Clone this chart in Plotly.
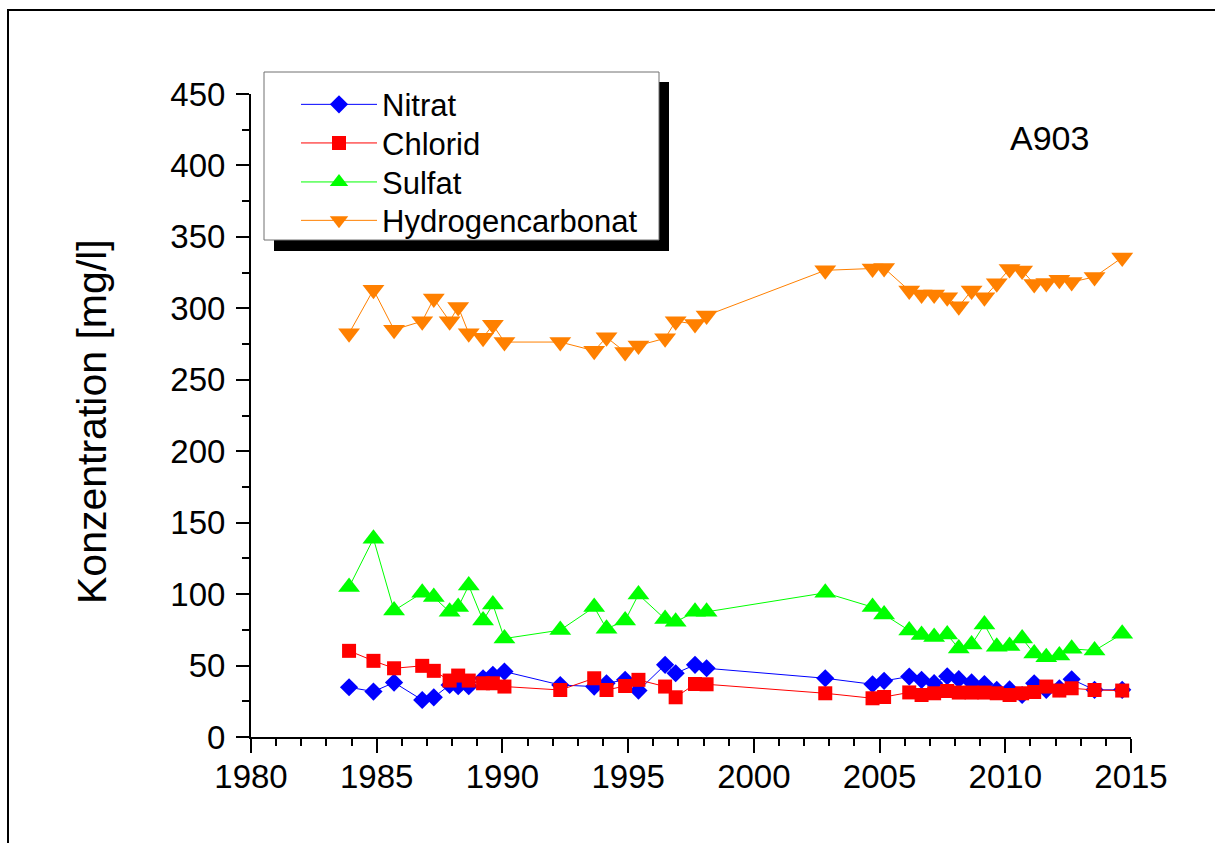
import plotly.graph_objects as go

# ---- data (decimal years) ----
dates = [1983.90, 1984.87, 1985.69, 1986.81, 1987.27, 1987.90, 1988.24, 1988.66, 1989.23, 1989.62,
         1990.08, 1992.30, 1993.65, 1994.14, 1994.88, 1995.41, 1996.47, 1996.89, 1997.66, 1998.12,
         2002.84, 2004.72, 2005.18, 2006.18, 2006.67, 2007.17, 2007.69, 2008.15, 2008.66, 2009.17,
         2009.66, 2010.17, 2010.67, 2011.15, 2011.63, 2012.15, 2012.64, 2013.55, 2014.65]

nitrat = [34.8, 31.8, 38.1, 25.9, 27.8, 36.4, 35.5, 35.5, 41.1, 43.5,
          45.8, 36.4, 35.3, 37.6, 40.0, 32.5, 50.5, 44.6, 50.5, 48.1,
          41.1, 36.9, 39.3, 42.3, 40.0, 37.7, 42.5, 40.5, 38.2, 37.1,
          33.0, 33.3, 29.4, 37.6, 33.0, 34.1, 40.4, 33.0, 33.0]

chlorid = [60.3, 53.3, 48.1, 49.8, 46.3, 39.5, 43.0, 39.5, 37.6, 37.6,
           35.3, 32.9, 41.1, 32.9, 35.7, 40.0, 35.3, 27.8, 37.1, 36.9,
           30.6, 27.1, 28.0, 31.2, 29.4, 30.6, 32.2, 31.1, 31.1, 31.1,
           30.6, 29.4, 30.6, 31.5, 35.3, 32.5, 34.1, 32.9, 32.5]

sulfat = [104.9, 138.8, 88.5, 100.9, 97.9, 87.6, 90.9, 106.0, 81.5, 92.7,
          68.9, 74.8, 90.9, 75.7, 81.5, 99.7, 82.5, 80.6, 87.6, 87.6,
          100.9, 90.9, 85.7, 74.5, 71.3, 69.9, 71.7, 61.9, 64.7, 78.7,
          63.1, 63.6, 68.9, 58.4, 55.9, 57.0, 61.7, 60.5, 72.2]

hydrogencarbonat = [282.5, 313.0, 285.0, 291.0, 306.8, 291.0, 301.0, 282.5, 279.5, 288.5,
                    276.4, 276.4, 270.3, 279.7, 269.4, 274.0, 279.0, 291.0, 289.0, 295.0,
                    326.6, 327.8, 328.2, 312.4, 309.6, 309.6, 307.7, 301.4, 312.4, 307.7,
                    317.5, 327.5, 326.4, 317.0, 317.7, 320.0, 318.4, 322.0, 335.5]

series_names = ["Nitrat", "Chlorid", "Sulfat", "Hydrogencarbonat"]
series_values = [nitrat, chlorid, sulfat, hydrogencarbonat]
series_colors = ["#0000FF", "#FF0000", "#00FF00", "#FF8000"]
series_symbols = ["diamond", "square", "triangle-up", "triangle-down"]
series_sizes = [14, 14, 19, 19]

x_range = [1980, 2015]
y_range = [0, 450]
x_ticks = [1980, 1985, 1990, 1995, 2000, 2005, 2010, 2015]
y_ticks = [0, 50, 100, 150, 200, 250, 300, 350, 400, 450]

FONT = "Liberation Sans, Arial, sans-serif"
W, H = 1215, 843
L, R, T, B = 251, 84, 94, 106
PW, PH = W - L - R, H - T - B


def px_x(p):  # pixel -> paper x
    return (p - L) / PW


def px_y(p):  # pixel -> paper y
    return (H - B - p) / PH


legend_ids = ["legend", "legend2", "legend3", "legend4"]
legend_row_centers = [105.7, 144.3, 183.3, 221.7]

fig = go.Figure()
for name, vals, col, sym, sz, lid in zip(series_names, series_values, series_colors,
                                         series_symbols, series_sizes, legend_ids):
    fig.add_trace(go.Scatter(
        x=dates, y=vals, name=name, mode="lines+markers",
        line=dict(color=col, width=1),
        marker=dict(symbol=sym, size=sz, color=col, line=dict(width=0)),
        cliponaxis=False, legend=lid,
    ))

axis_common = dict(showgrid=False, zeroline=False, showline=True, linecolor="black",
                   linewidth=2, tickcolor="black", tickwidth=2)

legend_layout = {}
for lid, yc in zip(legend_ids, legend_row_centers):
    legend_layout[lid] = dict(x=px_x(296), y=px_y(yc - 28), xanchor="left", yanchor="top",
                              bgcolor="rgba(0,0,0,0)", borderwidth=0,
                              font=dict(family=FONT, size=31, color="black"),
                              itemwidth=76)

fig.update_layout(
    width=W, height=H,
    margin=dict(l=L, r=R, t=T, b=B, pad=0),
    paper_bgcolor="white", plot_bgcolor="white",
    font=dict(family=FONT, color="black"),
    showlegend=True,
    xaxis=dict(range=x_range, tickvals=x_ticks, ticks="outside", ticklen=14,
               ticklabelstandoff=-5,
               minor=dict(dtick=1, tick0=1980, ticks="outside", ticklen=7, tickwidth=2,
                          tickcolor="black"),
               tickfont=dict(family=FONT, size=33), **axis_common),
    yaxis=dict(range=y_range, tickvals=y_ticks, ticks="outside", ticklen=13,
               ticklabelstandoff=4,
               minor=dict(dtick=25, tick0=0, ticks="outside", ticklen=7, tickwidth=2,
                          tickcolor="black"),
               tickfont=dict(family=FONT, size=33), **axis_common),
    xaxis2=dict(range=x_range, overlaying="x", side="top", tickvals=x_ticks,
                ticks="inside", ticklen=14, showticklabels=False,
                minor=dict(dtick=1, tick0=1980, ticks="inside", ticklen=7, tickwidth=2,
                           tickcolor="black"),
                **axis_common),
    yaxis2=dict(range=y_range, overlaying="y", side="right", tickvals=y_ticks,
                ticks="inside", ticklen=14, showticklabels=False,
                minor=dict(dtick=25, tick0=0, ticks="inside", ticklen=7, tickwidth=2,
                           tickcolor="black"),
                **axis_common),
    **legend_layout,
)

shapes = [
    # outer frame
    dict(type="rect", xref="paper", yref="paper",
         x0=px_x(8), x1=px_x(1240), y0=px_y(870), y1=px_y(10),
         line=dict(color="black", width=2), fillcolor="rgba(0,0,0,0)", layer="below"),
    # legend shadow
    dict(type="rect", xref="paper", yref="paper",
         x0=px_x(274), x1=px_x(669), y0=px_y(251), y1=px_y(82),
         line=dict(width=0), fillcolor="black", layer="above"),
    # legend box
    dict(type="rect", xref="paper", yref="paper",
         x0=px_x(264), x1=px_x(659), y0=px_y(240), y1=px_y(72),
         line=dict(color="#707070", width=1), fillcolor="white", layer="above"),
]
fig.update_layout(shapes=shapes)

fig.add_annotation(text="Konzentration [mg/l]", xref="paper", yref="paper",
                   x=px_x(92), y=px_y(422), textangle=-90, showarrow=False,
                   xanchor="center", yanchor="middle",
                   font=dict(family=FONT, size=41, color="black"))
fig.add_annotation(text="A903", xref="paper", yref="paper",
                   x=px_x(1049), y=px_y(138), showarrow=False,
                   xanchor="center", yanchor="middle",
                   font=dict(family=FONT, size=34, color="black"))

fig.write_html("out.html")
